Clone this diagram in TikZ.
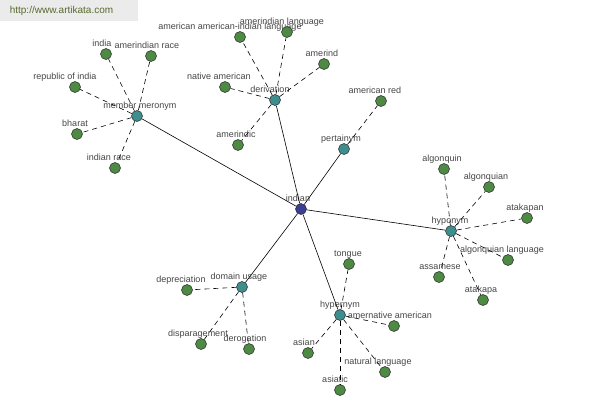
\documentclass[tikz,border=0pt]{standalone}
\usepackage{fontspec}
\setmainfont{Liberation Sans}
\usetikzlibrary{positioning}
\definecolor{leafgreen}{HTML}{4E8A44}
\definecolor{relteal}{HTML}{3F8E8E}
\definecolor{hubblue}{HTML}{3B3E94}
\definecolor{labelgray}{HTML}{454545}
\definecolor{markgray}{HTML}{EBEBEB}
\definecolor{markgreen}{HTML}{556B2F}

\begin{document}
\begin{tikzpicture}[
  x=1pt, y=-1pt,
  lbl/.style={font=\fontsize{9}{10}\selectfont, text=labelgray, inner sep=0pt, text depth=1.5pt},
  dot/.style={circle, draw=black!85, line width=0.5pt, minimum size=11pt, inner sep=0pt, label distance=0pt},
  leaf/.style={dot, fill=leafgreen},
  rel/.style={dot, fill=relteal},
  hub/.style={dot, fill=hubblue},
  link/.style={line width=0.6pt},
  sub/.style={line width=0.6pt, dash pattern=on 5pt off 4pt}
]
  \useasboundingbox (0,0) rectangle (600,400);
  % Watermark
  \fill[markgray] (0,0) rectangle (138,21);
  \node[font=\fontsize{10}{12}\selectfont, text=markgreen, inner sep=0pt] (mark) at (61.5,11) {http://www.artikata.com};
  % Centre and relations
  \node[hub, label={[lbl, xshift=-3pt]above:indian}] (indian) at (301,209) {};
  \node[rel, label={[lbl, xshift=3pt]above:member meronym}] (meronym) at (137,116) {};
  \node[rel, label={[lbl, xshift=-5pt]above:derivation}] (deriv) at (275,100) {};
  \node[rel, label={[lbl, xshift=-3pt]above:pertainym}] (pertain) at (344,149) {};
  \node[rel, label={[lbl, xshift=-1pt]above:hyponym}] (hypo) at (451,231) {};
  \node[rel, label={[lbl, xshift=-3pt]above:domain usage}] (domain) at (242,287) {};
  \node[rel, label={[lbl]above:hypernym}] (hyper) at (340,315) {};
  % member meronym leaves
  \node[leaf, label={[lbl, xshift=-4pt]above:india}] (india) at (106,54) {};
  \node[leaf, label={[lbl, xshift=-4pt]above:amerindian race}] (amerrace) at (151,56) {};
  \node[leaf, label={[lbl, xshift=-10pt]above:republic of india}] (republic) at (75,87) {};
  \node[leaf, label={[lbl, xshift=-2pt]above:bharat}] (bharat) at (77,134) {};
  \node[leaf, label={[lbl, xshift=-6pt]above:indian race}] (indrace) at (115,168) {};
  % derivation leaves
  \node[leaf, label={[lbl, xshift=-10pt]above:american american-indian language}] (amamlang) at (240,37) {};
  \node[leaf, label={[lbl, xshift=-5pt]above:amerindian language}] (amerlang) at (287,32) {};
  \node[leaf, label={[lbl, xshift=-2pt]above:amerind}] (amerind) at (324,64) {};
  \node[leaf, label={[lbl, xshift=-6pt]above:native american}] (natam) at (225,87) {};
  \node[leaf, label={[lbl, xshift=-2pt]above:amerindic}] (amerindic) at (238,145) {};
  % pertainym leaf
  \node[leaf, label={[lbl, xshift=-6pt]above:american red}] (amred) at (381,101) {};
  % hyponym leaves
  \node[leaf, label={[lbl, xshift=-2pt]above:algonquin}] (algonquin) at (444,169) {};
  \node[leaf, label={[lbl, xshift=-3pt]above:algonquian}] (algonquian) at (489,187) {};
  \node[leaf, label={[lbl, xshift=-2pt]above:atakapan}] (atakapan) at (527,218) {};
  \node[leaf, label={[lbl, xshift=-6pt]above:algonquian language}] (alglang) at (508,260) {};
  \node[leaf, label={[lbl, xshift=1pt]above:assamese}] (assamese) at (439,277) {};
  \node[leaf, label={[lbl, xshift=-2pt]above:atakapa}] (atakapa) at (483,300) {};
  % domain usage leaves
  \node[leaf, label={[lbl, xshift=-6pt]above:depreciation}] (deprec) at (187,290) {};
  \node[leaf, label={[lbl, xshift=-3pt]above:disparagement}] (dispar) at (201,344) {};
  \node[leaf, label={[lbl, xshift=-4pt]above:derogation}] (derog) at (249,349) {};
  % hypernym leaves
  \node[leaf, label={[lbl, xshift=-1pt]above:tongue}] (tongue) at (349,264) {};
  \node[leaf, label={[lbl, xshift=-4pt]above:amernative american}] (amernat) at (394,326) {};
  \node[leaf, label={[lbl, xshift=-4pt]above:asian}] (asian) at (308,353) {};
  \node[leaf, label={[lbl, xshift=-7pt]above:natural language}] (natlang) at (385,372) {};
  \node[leaf, label={[lbl, xshift=-5pt]above:asiatic}] (asiatic) at (340,390) {};
  % Relations to centre
  \foreach \relnode in {meronym,deriv,pertain,hypo,domain,hyper}
    \draw[link] (indian) -- (\relnode);
  % Leaves to relations
  \foreach \leafnode in {india,amerrace,republic,bharat,indrace}
    \draw[sub] (meronym) -- (\leafnode);
  \foreach \leafnode in {amamlang,amerlang,amerind,natam,amerindic}
    \draw[sub] (deriv) -- (\leafnode);
  \draw[sub] (pertain) -- (amred);
  \foreach \leafnode in {algonquin,algonquian,atakapan,alglang,assamese,atakapa}
    \draw[sub] (hypo) -- (\leafnode);
  \foreach \leafnode in {deprec,dispar,derog}
    \draw[sub] (domain) -- (\leafnode);
  \foreach \leafnode in {tongue,amernat,asian,natlang,asiatic}
    \draw[sub] (hyper) -- (\leafnode);
\end{tikzpicture}
\end{document}
